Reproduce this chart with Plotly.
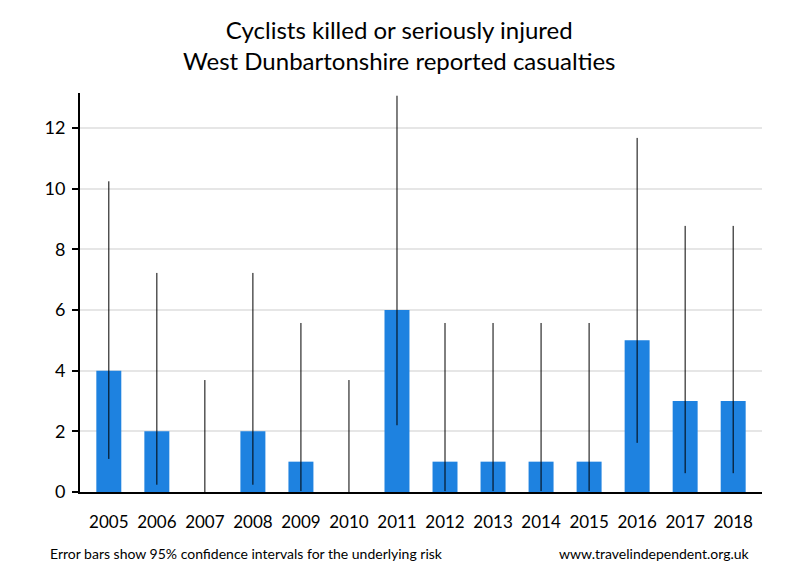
import plotly.graph_objects as go

years = ["2005", "2006", "2007", "2008", "2009", "2010", "2011",
         "2012", "2013", "2014", "2015", "2016", "2017", "2018"]
casualties = [4, 2, 0, 2, 1, 0, 6, 1, 1, 1, 1, 5, 3, 3]
ci_lower = [1.09, 0.24, 0.0, 0.24, 0.03, 0.0, 2.20, 0.03, 0.03, 0.03, 0.03, 1.62, 0.62, 0.62]
ci_upper = [10.24, 7.22, 3.69, 7.22, 5.57, 3.69, 13.06, 5.57, 5.57, 5.57, 5.57, 11.67, 8.77, 8.77]

err_plus = [u - v for u, v in zip(ci_upper, casualties)]
err_minus = [v - l for v, l in zip(casualties, ci_lower)]

FONT = "Lato, 'Noto Sans', sans-serif"

fig = go.Figure()
fig.add_trace(go.Bar(
    x=years, y=casualties,
    marker=dict(color="#1E82E0", line=dict(width=0)),
    width=0.52,
    error_y=dict(type="data", symmetric=False, array=err_plus, arrayminus=err_minus,
                 color="black", thickness=1, width=0),
    showlegend=False,
))

fig.update_layout(
    width=800, height=580,
    margin=dict(l=72, r=46, t=85, b=96, autoexpand=False),
    paper_bgcolor="white", plot_bgcolor="white",
    font=dict(family=FONT, color="black", size=16),
    bargap=0.48,
)
fig.update_xaxes(
    type="category", range=[-0.6, 13.6],
    showline=True, linecolor="black", linewidth=2,
    ticks="", showgrid=False, ticklabelstandoff=14,
    tickfont=dict(size=17),
)
fig.update_yaxes(
    range=[0, 13.15], tickvals=[0, 2, 4, 6, 8, 10, 12],
    showline=True, linecolor="black", linewidth=2,
    ticks="outside", ticklen=6, tickwidth=2, tickcolor="black",
    showgrid=True, gridcolor="#e6e6e6", gridwidth=2,
    zeroline=False, tickfont=dict(size=18), ticklabelstandoff=3,
)
fig.add_annotation(text="Cyclists killed or seriously injured<br>West Dunbartonshire reported casualties",
                   xref="paper", yref="paper", x=0.469, y=1.12, xanchor="center", yanchor="middle",
                   showarrow=False, font=dict(size=24, family=FONT, color="black"))
fig.add_annotation(text="Error bars show 95% confidence intervals for the underlying risk",
                   xref="paper", yref="paper", x=-0.047, y=-0.153, xanchor="left", yanchor="middle",
                   showarrow=False, font=dict(size=14, family=FONT, color="black"))
fig.add_annotation(text="www.travelindependent.org.uk",
                   xref="paper", yref="paper", x=0.985, y=-0.153, xanchor="right", yanchor="middle",
                   showarrow=False, font=dict(size=14, family=FONT, color="black"))

fig.write_html("out.html")
